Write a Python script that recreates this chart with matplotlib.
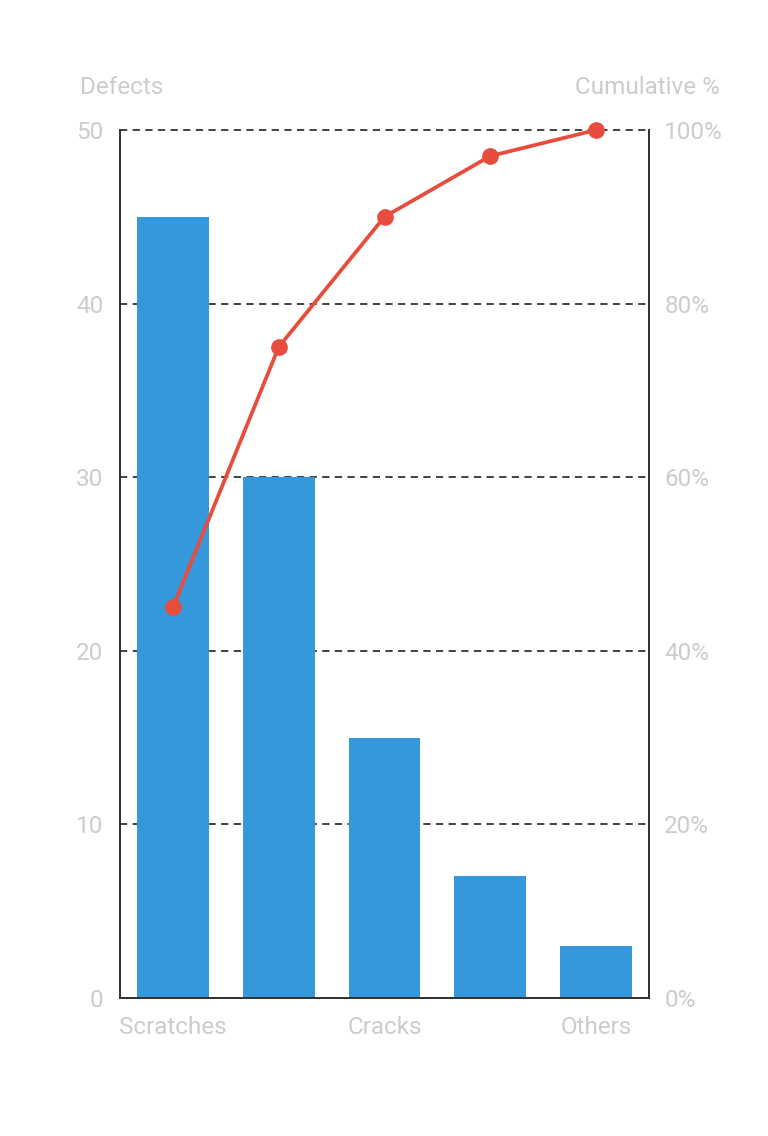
import numpy as np
import matplotlib.pyplot as plt
from matplotlib.ticker import FuncFormatter

categories = ['Scratches', 'Dents', 'Cracks', 'Stains', 'Others']
defects = [45, 30, 15, 7, 3]
cumulative = [45, 75, 90, 97, 100]
left_ticks = [0, 10, 20, 30, 40, 50]
right_ticks = [0, 20, 40, 60, 80, 100]

plt.rcParams['font.family'] = ['Roboto', 'DejaVu Sans']
label_color = '#cccccc'
axis_color = '#333333'
fs = 17.5

fig = plt.figure(figsize=(7.68, 11.36), dpi=100)
ax = fig.add_axes([120 / 768, 1 - 998 / 1136, 529 / 768, 868 / 1136])
x = np.arange(len(categories))

ax.bar(x, defects, width=0.68, color='#3498db', zorder=2)
ax.set_xlim(-0.5, len(categories) - 0.5)
ax.set_ylim(0, 50)
ax.set_yticks(left_ticks)
ax.set_xticks(x[::2])
ax.set_xticklabels(categories[::2])
for y in left_ticks[1:]:
    ax.axhline(y, color=axis_color, lw=1.3, ls=(0, (4, 3)), zorder=1, clip_on=False)

ax2 = ax.twinx()
ax2.plot(x, cumulative, color='#e74c3c', lw=2.7, marker='o', markersize=11,
         zorder=3, clip_on=False)
ax2.set_ylim(0, 100)
ax2.set_yticks(right_ticks)
ax2.yaxis.set_major_formatter(FuncFormatter(lambda v, p: f'{int(v)}%'))

for a in (ax, ax2):
    a.spines['top'].set_visible(False)
    for s in ('left', 'right', 'bottom'):
        a.spines[s].set_color(axis_color)
        a.spines[s].set_linewidth(1.3)
    a.tick_params(length=0, labelsize=fs, colors=label_color)
ax.tick_params(axis='y', pad=12)
ax.tick_params(axis='x', pad=13)
ax2.tick_params(axis='y', pad=11)

fig.text(80 / 768, 1 - 87 / 1136, 'Defects', color=label_color, fontsize=fs,
         ha='left', va='center')
fig.text(720 / 768, 1 - 87 / 1136, 'Cumulative %', color=label_color, fontsize=fs,
         ha='right', va='center')

fig.savefig('out.png', dpi=100)
